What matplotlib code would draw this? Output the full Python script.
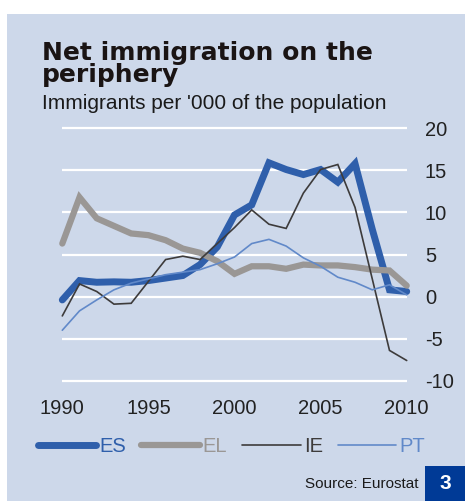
import matplotlib
matplotlib.use("Agg")
import matplotlib.pyplot as plt
from matplotlib.patches import Rectangle

years = list(range(1990, 2011))
es = [-0.4, 1.9, 1.7, 1.75, 1.7, 1.9, 2.2, 2.5, 3.8, 5.9, 9.7, 10.9, 15.9, 15.1, 14.5, 15.1, 13.6, 15.8, 8.0, 0.8, 0.6]
el = [6.3, 11.8, 9.3, 8.4, 7.5, 7.3, 6.7, 5.7, 5.2, 4.2, 2.7, 3.6, 3.6, 3.3, 3.8, 3.7, 3.7, 3.5, 3.2, 3.1, 1.3]
ie = [-2.3, 1.5, 0.6, -0.9, -0.8, 1.8, 4.4, 4.8, 4.4, 6.3, 8.2, 10.3, 8.6, 8.1, 12.3, 15.1, 15.7, 10.6, 2.1, -6.4, -7.6]
pt = [-4.0, -1.7, -0.4, 0.8, 1.6, 2.1, 2.6, 2.9, 3.2, 3.9, 4.7, 6.3, 6.8, 6.0, 4.6, 3.6, 2.3, 1.7, 0.8, 1.4, 0.2]

series = [
    ("ES", es, "#2f5fab", 5.0),
    ("EL", el, "#9a9795", 4.5),
    ("IE", ie, "#3d3b3b", 1.2),
    ("PT", pt, "#6189c9", 1.2),
]
yticks = [-10, -5, 0, 5, 10, 15, 20]
xticks = [1990, 1995, 2000, 2005, 2010]

plt.rcParams["font.family"] = ["Liberation Sans", "DejaVu Sans"]
plt.rcParams["axes.unicode_minus"] = False
panel = "#cdd8ea"
W, H = 465, 501
fig = plt.figure(figsize=(W / 100, H / 100), dpi=100)
fig.patches.append(Rectangle((7 / W, 0), 1, (H - 14) / H, transform=fig.transFigure,
                             facecolor=panel, edgecolor="none", zorder=-5))

ax = fig.add_axes([62.3 / W, (H - 384.9) / H, 344.4 / W, 260.8 / H])
ax.patch.set_visible(False)
for s in ax.spines.values():
    s.set_visible(False)
ax.set_xlim(1990, 2010)
ax.set_ylim(-10.5, 20.5)
ax.set_xticks(xticks)
ax.set_yticks(yticks)
ax.yaxis.tick_right()
ax.tick_params(length=0, labelsize=14.5, colors="#222222")
ax.tick_params(axis="x", pad=10)
ax.tick_params(axis="y", pad=13)
for y in yticks:
    ax.axhline(y, color="white", lw=1.6, zorder=1)

for name, vals, color, lw in series:
    ax.plot(years, vals, color=color, lw=lw, label=name, solid_capstyle="round",
            solid_joinstyle="miter", clip_on=False, zorder=3)

fig.legend(loc="center left", bbox_to_anchor=(38 / W, 1 - 447 / H), ncol=4,
           frameon=False, fontsize=14.5, handlelength=2.9, handletextpad=0.15,
           columnspacing=0.75, labelcolor="linecolor", borderaxespad=0, borderpad=0)

fig.text(42 / W, 1 - 41 / H, "Net immigration on the\nperiphery", fontsize=18,
         fontweight="heavy", family="DejaVu Sans", color="#1a1414", va="top",
         ha="left", linespacing=0.92)
fig.text(42 / W, 1 - 109 / H, "Immigrants per '000 of the population", fontsize=15,
         color="#1a1a1a", va="baseline", ha="left")
fig.text(418 / W, 1 - 484 / H, "Source: Eurostat", fontsize=11, color="#1a1a1a",
         va="center", ha="right")
fig.patches.append(Rectangle((425 / W, 0), 40 / W, 35 / H, transform=fig.transFigure,
                             facecolor="#003a96", edgecolor="none", zorder=1))
fig.text(445 / W, 17.5 / H, "3", fontsize=15, fontweight="bold", color="white",
         va="center", ha="center")

fig.savefig("out.png", dpi=100)
